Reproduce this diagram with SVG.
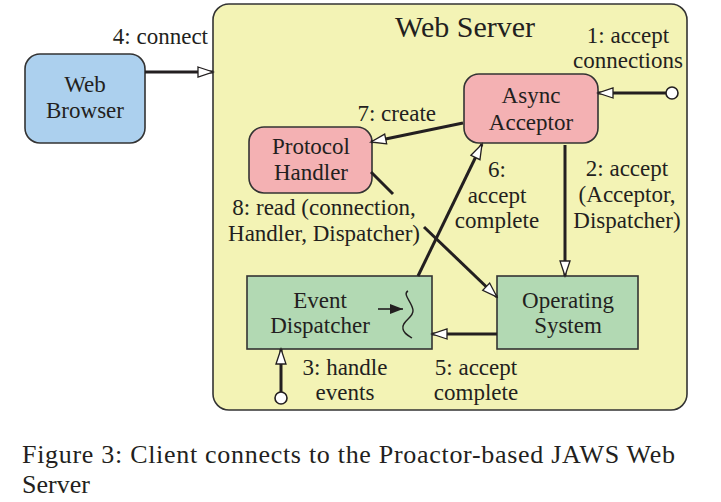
<svg xmlns="http://www.w3.org/2000/svg" width="721" height="502" viewBox="0 0 721 502">
<style>
text{font-family:"Liberation Serif","Times New Roman",serif;font-size:23px;fill:#231f20}
.c{text-anchor:middle}
.n{stroke:#333;stroke-width:1.6}
.e{fill:none;stroke:#231f20;stroke-width:3}
</style>
<defs>
<marker id="h" markerUnits="userSpaceOnUse" markerWidth="18" markerHeight="14" refX="16" refY="6" orient="auto" viewBox="0 0 18 12">
<path d="M1,1 L16,6 L1,11 Z" fill="#fff" stroke="#231f20" stroke-width="1.3"/>
</marker>
<marker id="f" markerUnits="userSpaceOnUse" markerWidth="14" markerHeight="12" refX="13" refY="5" orient="auto" viewBox="0 0 14 10">
<path d="M0,0 L13,5 L0,10 Z" fill="#231f20"/>
</marker>
</defs>
<rect width="721" height="502" fill="#fff"/>
<g id="server">
<rect class="n" x="213" y="4" width="474" height="406" rx="16" fill="#f3f3b5"/>
<text x="465" y="37" class="c" style="font-size:30px">Web Server</text>
</g>
<g id="browser">
<rect class="n" x="25" y="54" width="120" height="89" rx="15" fill="#acd0ee"/>
<text x="85" y="92" class="c">Web</text>
<text x="85" y="118" class="c">Browser</text>
</g>
<g id="acceptor">
<rect class="n" x="464" y="74" width="134" height="69" rx="15" fill="#f4b1b3"/>
<text x="531" y="103" class="c">Async</text>
<text x="531" y="130" class="c">Acceptor</text>
</g>
<g id="handler">
<rect class="n" x="249" y="127" width="123" height="66" rx="15" fill="#f4b1b3"/>
<text x="311" y="154" class="c">Protocol</text>
<text x="311" y="180" class="c">Handler</text>
</g>
<g id="dispatcher">
<rect class="n" x="247" y="276" width="185" height="73" fill="#b2d9b3"/>
<text x="320" y="308" class="c">Event</text>
<text x="320" y="333" class="c">Dispatcher</text>
<line x1="378" y1="309" x2="403" y2="309" stroke="#231f20" stroke-width="1.6" marker-end="url(#f)"/>
<path d="M408,291 C402,294 412,302 413,310 C414,318 401,321 403,329 C404,334 409,336 412,338" fill="none" stroke="#231f20" stroke-width="1.4"/>
</g>
<g id="os">
<rect class="n" x="497" y="276" width="141" height="73" fill="#b2d9b3"/>
<text x="568" y="308" class="c">Operating</text>
<text x="568" y="333" class="c">System</text>
</g>
<g id="connectors">
<line class="e" x1="145" y1="72" x2="213" y2="72" marker-end="url(#h)"/>
<line class="e" x1="666" y1="93" x2="598" y2="93" marker-end="url(#h)"/>
<circle cx="672" cy="93" r="6" fill="#fff" stroke="#231f20" stroke-width="1.6"/>
<line class="e" x1="463" y1="123" x2="371" y2="142" marker-end="url(#h)"/>
<line class="e" x1="418" y1="276" x2="482" y2="144" marker-end="url(#h)"/>
<line class="e" x1="565" y1="145" x2="565" y2="276" marker-end="url(#h)"/>
<line class="e" x1="371" y1="172" x2="393" y2="194"/>
<line class="e" x1="424" y1="227" x2="497" y2="297" marker-end="url(#h)"/>
<line class="e" x1="497" y1="334" x2="432" y2="334" marker-end="url(#h)"/>
<line class="e" x1="281" y1="392" x2="281" y2="349" marker-end="url(#h)"/>
<circle cx="281" cy="398" r="6" fill="#fff" stroke="#231f20" stroke-width="1.6"/>
</g>
<g id="labels">
<text x="208" y="44" text-anchor="end">4: connect</text>
<text x="628" y="43" class="c">1: accept</text>
<text x="628" y="68" class="c">connections</text>
<text x="436" y="121" text-anchor="end">7: create</text>
<text x="497" y="177" class="c">6:</text>
<text x="497" y="203" class="c">accept</text>
<text x="497" y="228" class="c">complete</text>
<text x="627" y="176" class="c">2: accept</text>
<text x="627" y="202" class="c">(Acceptor,</text>
<text x="627" y="228" class="c">Dispatcher)</text>
<text x="324" y="215" class="c">8: read (connection,</text>
<text x="324" y="241" class="c">Handler, Dispatcher)</text>
<text x="345" y="375" class="c">3: handle</text>
<text x="345" y="400" class="c">events</text>
<text x="476" y="375" class="c">5: accept</text>
<text x="476" y="400" class="c">complete</text>
</g>
<g id="caption">
<text x="22" y="463" textLength="653" lengthAdjust="spacing" style="font-size:26px">Figure 3:  Client connects to the Proactor-based JAWS Web</text>
<text x="22" y="493" style="font-size:26px">Server</text>
</g>
</svg>
